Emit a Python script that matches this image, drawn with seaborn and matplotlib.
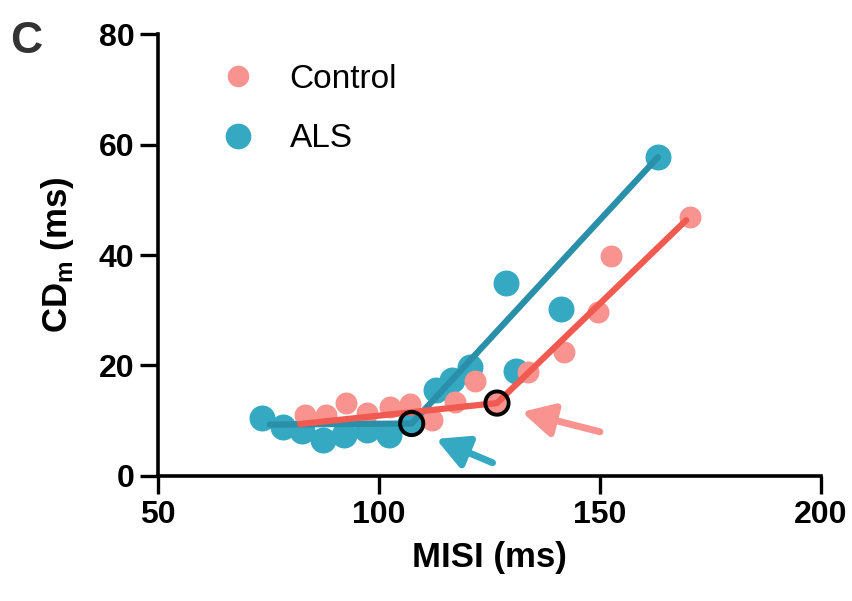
import matplotlib
matplotlib.use("Agg")
import matplotlib.pyplot as plt
import seaborn as sns
import pandas as pd
from matplotlib.lines import Line2D

# ---- data ----
ctrl_x = [83.2, 88.1, 92.6, 97.4, 102.6, 107.1, 111.9, 117.3, 121.8, 126.3, 133.7, 141.9, 149.5, 152.5, 170.4]
ctrl_y = [11.0, 11.0, 13.2, 11.4, 12.5, 13.0, 10.1, 13.4, 17.2, 13.2, 18.8, 22.4, 29.7, 39.8, 46.9]
als_x = [73.5, 78.3, 82.6, 87.4, 92.2, 97.2, 102.2, 107.0, 112.8, 116.6, 120.6, 131.0, 128.7, 141.2, 163.1]
als_y = [10.5, 8.9, 8.1, 6.5, 7.4, 8.3, 7.4, 9.6, 15.6, 17.4, 19.7, 19.0, 34.9, 30.2, 57.7]
ctrl_fit_x = [82.1, 126.7, 169.5]
ctrl_fit_y = [9.4, 13.2, 46.3]
als_fit_x = [75.3, 107.4, 163.1]
als_fit_y = [9.3, 9.5, 57.7]
x_ticks = [50, 100, 150, 200]
y_ticks = [0, 20, 40, 60, 80]

PINK = "#F8938F"
TEAL = "#35A9C2"
TEAL_LINE = "#2A8FA8"
RED_LINE = "#F15A50"

sns.set_style("ticks")
plt.rcParams["font.family"] = ["Liberation Sans", "DejaVu Sans"]
plt.rcParams["text.color"] = "black"
plt.rcParams["axes.labelcolor"] = "black"
plt.rcParams["xtick.color"] = "black"
plt.rcParams["ytick.color"] = "black"
plt.rcParams["mathtext.fontset"] = "custom"
plt.rcParams["mathtext.rm"] = "Liberation Sans:bold"
plt.rcParams["mathtext.bf"] = "Liberation Sans:bold"

fig = plt.figure(figsize=(8.52, 6.01), dpi=100)
ax = fig.add_axes([0.1854, 0.208, 0.7782, 0.7354])

df_c = pd.DataFrame({"x": ctrl_x, "y": ctrl_y})
df_a = pd.DataFrame({"x": als_x, "y": als_y})
sns.scatterplot(data=df_a, x="x", y="y", ax=ax, color=TEAL, s=350, linewidth=0, zorder=2)
sns.scatterplot(data=df_c, x="x", y="y", ax=ax, color=PINK, s=250, linewidth=0, zorder=3)

sns.lineplot(x=als_fit_x, y=als_fit_y, ax=ax, color=TEAL_LINE, lw=4.5, sort=False,
             estimator=None, zorder=4, solid_capstyle="round")
sns.lineplot(x=ctrl_fit_x, y=ctrl_fit_y, ax=ax, color=RED_LINE, lw=4.5, sort=False,
             estimator=None, zorder=5, solid_capstyle="round")

# breakpoints
ax.scatter([als_fit_x[1], ctrl_fit_x[1]], [als_fit_y[1], ctrl_fit_y[1]], s=280,
           facecolors="none", edgecolors="black", linewidths=2.8, zorder=6)

# arrows
arrow_style = "-|>,head_length=0.95,head_width=0.5"
ax.annotate("", xy=(132.3, 11.6), xytext=(150.0, 8.0),
            arrowprops=dict(arrowstyle=arrow_style, color=PINK,
                            lw=5, mutation_scale=20, shrinkA=0, shrinkB=0, capstyle="round"),
            zorder=6)
ax.annotate("", xy=(112.9, 6.7), xytext=(125.7, 2.4),
            arrowprops=dict(arrowstyle=arrow_style, color=TEAL,
                            lw=5, mutation_scale=20, shrinkA=0, shrinkB=0, capstyle="round"),
            zorder=6)

ax.set_xlim(50, 200)
ax.set_ylim(0, 80)
ax.set_xticks(x_ticks)
ax.set_yticks(y_ticks)
sns.despine(ax=ax)
for sp in ["left", "bottom"]:
    ax.spines[sp].set_linewidth(2.6)
    ax.spines[sp].set_color("black")
ax.tick_params(axis="both", length=13, width=2.4, color="black", labelsize=23, pad=4)
for lab in ax.get_xticklabels() + ax.get_yticklabels():
    lab.set_fontweight("bold")
ax.set_xlabel("MISI (ms)", fontsize=25, fontweight="bold", labelpad=8)
ax.set_ylabel(r"CD$_{\mathregular{m}}$ (ms)", fontsize=25, fontweight="bold", labelpad=16)

handles = [Line2D([], [], marker="o", ls="", color=PINK, markersize=15.5, markeredgewidth=0),
           Line2D([], [], marker="o", ls="", color=TEAL, markersize=18.5, markeredgewidth=0)]
leg = ax.legend(handles, ["Control", "ALS"], loc="upper left", bbox_to_anchor=(0.045, 1.0),
                frameon=False, prop={"size": 24},
                handletextpad=0.95, labelspacing=0.85, handlelength=1.2)

fig.text(0.012, 0.965, "C", fontsize=32, fontweight="bold", color="#333333",
         va="top", ha="left")

fig.savefig("out.png", dpi=100)
